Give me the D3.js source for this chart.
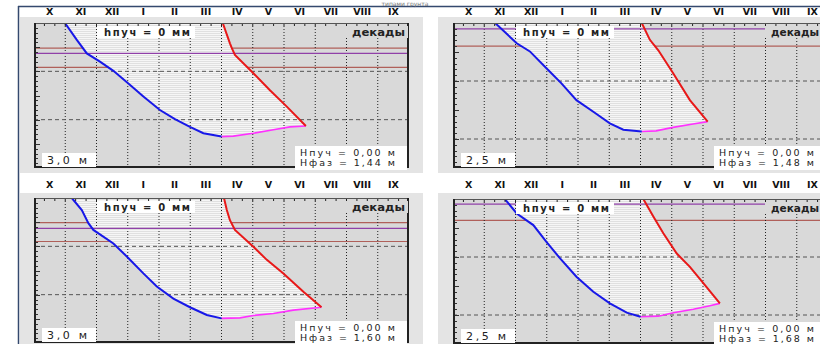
<!DOCTYPE html>
<html><head><meta charset="utf-8">
<script src="https://cdnjs.cloudflare.com/ajax/libs/d3/7.8.5/d3.min.js"></script>
<style>body{margin:0;background:#fff;overflow:hidden;} svg{display:block;}</style>
</head><body>
<svg id="chart" width="820" height="344"></svg>
<script>
// ---------- DATA ----------
const months = ["X","XI","XII","I","II","III","IV","V","VI","VII","VIII","IX"];
const maxDepths = [3.0, 2.5, 3.0, 2.5];
const depthLabels = ["3,0 м","2,5 м","3,0 м","2,5 м"];
const hpuchMM = ["0","0","0","0"];
const Hpuch = ["0,00","0,00","0,00","0,00"];
const Hfaz = ["1,44","1,48","1,60","1,68"];
const purpleDepths = [0.63, 0.10, 0.63, 0.09];
const brownDepths = [[0.52, 0.92], [0.40], [0.51, 0.90], [0.37]];

// [month from 1 Oct, depth m]
const freeze1 = [[0.99,0],[1.37,0.35],[1.69,0.63],[2.11,0.80],[2.54,0.99],[3.02,1.25],[3.50,1.52],[4.03,1.80],[4.51,1.99],[4.99,2.15],[5.42,2.28],[6.0,2.35]];
const thawBottom1 = [[6.0,2.35],[6.38,2.34],[7.02,2.28],[7.66,2.21],[8.19,2.15],[8.70,2.13]];
const thawTop1 = [[6.04,0],[6.27,0.42],[6.33,0.52],[6.43,0.66],[7.02,1.04],[7.55,1.39],[8.09,1.73],[8.70,2.13]];

const freeze2 = [[1.35,0],[2.04,0.35],[2.46,0.49],[2.99,0.78],[3.47,1.04],[3.95,1.33],[4.49,1.53],[5.02,1.73],[5.45,1.84],[6.04,1.87]];
const thawBottom2 = [[6.04,1.87],[6.5,1.86],[7.04,1.80],[7.68,1.74],[8.15,1.70]];
const thawTop2 = [[6.04,0],[6.30,0.29],[6.57,0.47],[7.05,0.87],[7.58,1.33],[8.15,1.70]];

const freeze3 = [[1.21,0],[1.53,0.25],[1.74,0.52],[1.90,0.66],[2.54,0.94],[2.97,1.21],[3.50,1.56],[3.93,1.83],[4.46,2.08],[4.99,2.26],[5.53,2.42],[6.0,2.49]];
const thawBottom3 = [[6.0,2.49],[6.59,2.48],[7.02,2.43],[7.66,2.39],[8.3,2.32],[9.2,2.26]];
const thawTop3 = [[6.08,0],[6.17,0.25],[6.27,0.46],[6.43,0.66],[7.02,1.01],[7.45,1.28],[7.98,1.56],[8.62,1.94],[9.2,2.26]];

const freeze4 = [[1.66,0],[2.04,0.25],[2.57,0.45],[2.99,0.74],[3.42,1.02],[3.95,1.34],[4.49,1.60],[5.02,1.80],[5.56,1.96],[6.0,2.03]];
const thawBottom4 = [[6.0,2.03],[6.57,2.02],[7.05,1.96],[7.69,1.90],[8.22,1.84],[8.54,1.80]];
const thawTop4 = [[6.09,0],[6.41,0.30],[6.73,0.59],[7.16,0.94],[7.58,1.17],[8.01,1.45],[8.54,1.80]];

const freezeSeries = [freeze1, freeze2, freeze3, freeze4];
const thawBottomSeries = [thawBottom1, thawBottom2, thawBottom3, thawBottom4];
const thawTopSeries = [thawTop1, thawTop2, thawTop3, thawTop4];

// ---------- LAYOUT ----------
const W = 375, H = 145;
const layout = [
  {ox:20,  oy:17,  ow:403, oh:156, px:34,  py:23,  ly:15},
  {ox:438, oy:17,  ow:390, oh:156, px:453, py:23,  ly:15},
  {ox:20,  oy:193, ow:403, oh:160, px:34,  py:198, ly:188},
  {ox:438, oy:193, ow:390, oh:160, px:453, py:199, ly:188}
];
const FONT = "DejaVu Sans, Verdana, sans-serif";

const svg = d3.select("#chart");
const defs = svg.append("defs");
const pat = defs.append("pattern").attr("id","hatch").attr("patternUnits","userSpaceOnUse")
  .attr("width",4).attr("height",2);
pat.append("rect").attr("width",4).attr("height",2).attr("fill","#e0e0e0");
pat.append("rect").attr("width",4).attr("height",1).attr("fill","#f6f6f6");

svg.append("rect").attr("width",820).attr("height",344).attr("fill","#fff");

layout.forEach((L, i) => {
  const g = svg.append("g");
  const maxD = maxDepths[i];
  const x = d3.scaleLinear().domain([0,12]).range([L.px, L.px + W]);
  const y = d3.scaleLinear().domain([0,maxD]).range([L.py, L.py + H]);
  const band = d3.scaleBand().domain(months).range([L.px, L.px + W]);

  defs.append("clipPath").attr("id","clip"+i).append("rect")
    .attr("x",L.px).attr("y",L.py).attr("width",W).attr("height",H);

  g.append("rect").attr("x",L.ox).attr("y",L.oy).attr("width",L.ow).attr("height",L.oh).attr("fill","#e4e4e4");

  g.selectAll("text.m").data(months).join("text")
    .attr("x", d => band(d) + band.bandwidth()/2).attr("y", L.ly)
    .attr("text-anchor","middle").attr("font-family",FONT).attr("font-weight","bold")
    .attr("font-size",9.5).attr("fill","#111").text(d => d);

  const p = g.append("g").attr("clip-path","url(#clip"+i+")");
  p.append("rect").attr("x",L.px).attr("y",L.py).attr("width",W).attr("height",H).attr("fill","#d9d9d9");

  p.selectAll("line.br").data(brownDepths[i]).join("line")
    .attr("x1",L.px).attr("x2",L.px+W).attr("y1",d=>y(d)).attr("y2",d=>y(d))
    .attr("stroke","#b0605a").attr("stroke-width",1.2);

  const poly = freezeSeries[i].concat(thawBottomSeries[i].slice(1)).concat(thawTopSeries[i].slice().reverse());
  p.append("path").attr("d", d3.line().x(d=>x(d[0])).y(d=>y(d[1]))(poly) + "Z")
    .attr("fill","url(#hatch)");

  p.selectAll("line.vg").data(d3.range(1,12)).join("line")
    .attr("x1",d=>x(d)).attr("x2",d=>x(d)).attr("y1",L.py).attr("y2",L.py+H)
    .attr("stroke","#222").attr("stroke-width",1).attr("stroke-dasharray","1,2");
  p.selectAll("line.hg").data(d3.range(1, maxD)).join("line")
    .attr("x1",L.px).attr("x2",L.px+W).attr("y1",d=>y(d)).attr("y2",d=>y(d))
    .attr("stroke","#555").attr("stroke-width",1).attr("stroke-dasharray","4,3");

  p.append("line").attr("x1",L.px).attr("x2",L.px+W)
    .attr("y1",y(purpleDepths[i])).attr("y2",y(purpleDepths[i]))
    .attr("stroke","#9040a8").attr("stroke-width",1.3);

  const ln = d3.line().x(d=>x(d[0])).y(d=>y(d[1]));
  p.append("path").attr("d",ln(thawBottomSeries[i])).attr("fill","none").attr("stroke","#ff30ff").attr("stroke-width",1.6);
  p.append("path").attr("d",ln(freezeSeries[i])).attr("fill","none").attr("stroke","#1818e8").attr("stroke-width",2);
  p.append("path").attr("d",ln(thawTopSeries[i])).attr("fill","none").attr("stroke","#e81818").attr("stroke-width",2);

  p.selectAll("line.tt").data(d3.range(1,36)).join("line")
    .attr("x1",d=>x(d/3)).attr("x2",d=>x(d/3)).attr("y1",L.py).attr("y2",L.py+3)
    .attr("stroke","#222").attr("stroke-width",1);
  p.selectAll("line.lt").data(d3.range(1, Math.round(maxD*10))).join("line")
    .attr("x1",L.px).attr("x2",d => L.px + (d%5===0 ? 6 : 4))
    .attr("y1",d=>Math.round(y(d/10))+0.5).attr("y2",d=>Math.round(y(d/10))+0.5)
    .attr("stroke","#333").attr("stroke-width",1);

  p.append("rect").attr("x",L.px+0.5).attr("y",L.py+0.5).attr("width",W-1).attr("height",H-1)
    .attr("fill","none").attr("stroke","#555").attr("stroke-width",1);
  p.append("line").attr("x1",L.px+1).attr("x2",L.px+1).attr("y1",L.py).attr("y2",L.py+H)
    .attr("stroke","#222").attr("stroke-width",2);
  p.append("line").attr("x1",L.px).attr("x2",L.px+W).attr("y1",L.py+H-1).attr("y2",L.py+H-1)
    .attr("stroke","#222").attr("stroke-width",2);
  p.append("line").attr("x1",L.px+W-1).attr("x2",L.px+W-1).attr("y1",L.py).attr("y2",L.py+H)
    .attr("stroke","#222").attr("stroke-width",2);

  g.append("rect").attr("x",L.px+63).attr("y",L.py+3).attr("width",98).attr("height",12).attr("fill","#fff");
  g.append("text").attr("x",L.px+70).attr("y",L.py+12.5).attr("font-family",FONT).attr("font-weight","bold")
    .attr("font-size",10).attr("fill","#222").attr("textLength",86).attr("lengthAdjust","spacing")
    .text("hпуч = " + hpuchMM[i] + "  мм");

  const dStart = L.px + 318;
  g.append("rect").attr("x",L.px+312).attr("y",L.py+3).attr("width",62).attr("height",12).attr("fill","#d9d9d9");
  g.append("text").attr("x",dStart).attr("y",L.py+12.5).attr("font-family",FONT).attr("font-weight","bold")
    .attr("font-size",10).attr("fill","#222").attr("textLength",Math.min(53, 819 - dStart))
    .attr("lengthAdjust","spacingAndGlyphs").text("декады");

  g.append("rect").attr("x",L.px+8).attr("y",L.py+H-15).attr("width",54).attr("height",14).attr("fill","#fff");
  g.append("text").attr("x",L.px+13).attr("y",L.py+H-4).attr("font-family",FONT)
    .attr("font-size",11).attr("fill","#222").attr("textLength",40).attr("lengthAdjust","spacing").text(depthLabels[i]);

  g.append("rect").attr("x",L.px+261).attr("y",L.py+H-22).attr("width",112).attr("height",24).attr("fill","#fff");
  g.append("text").attr("x",L.px+266).attr("y",L.py+H-12).attr("font-family",FONT)
    .attr("font-size",9.5).attr("fill","#222").attr("textLength",95).attr("lengthAdjust","spacing")
    .text("Нпуч = " + Hpuch[i] + " м");
  g.append("text").attr("x",L.px+266).attr("y",L.py+H-2).attr("font-family",FONT)
    .attr("font-size",9.5).attr("fill","#222").attr("textLength",95).attr("lengthAdjust","spacing")
    .text("Нфаз = " + Hfaz[i] + " м");
});

svg.append("line").attr("x1",18).attr("x2",820).attr("y1",6.5).attr("y2",6.5).attr("stroke","#34496e").attr("stroke-width",1.5);
svg.append("line").attr("x1",18.5).attr("x2",18.5).attr("y1",6).attr("y2",344).attr("stroke","#34496e").attr("stroke-width",1.5);
svg.append("text").attr("x",405).attr("y",5.5).attr("text-anchor","middle").attr("font-family",FONT)
  .attr("font-size",6).attr("fill","#777").text("типами грунта");
</script>
</body></html>
